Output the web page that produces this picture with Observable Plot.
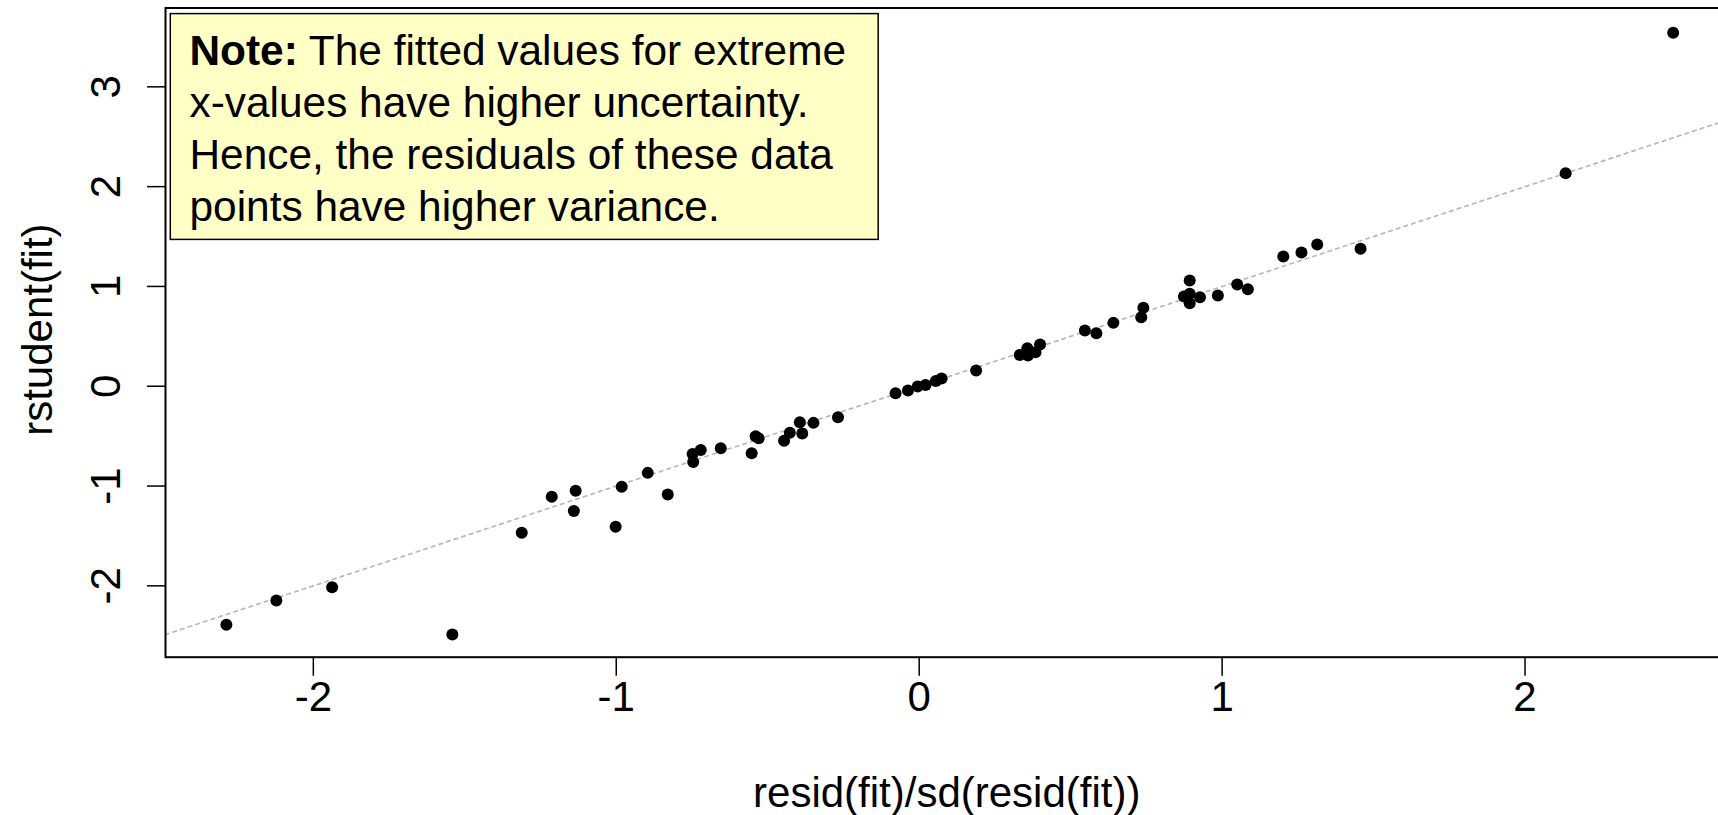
<!DOCTYPE html>
<html>
<head>
<meta charset="utf-8">
<script src="https://cdn.jsdelivr.net/npm/d3@7"></script>
<script src="https://cdn.jsdelivr.net/npm/@observablehq/plot@0.6"></script>
<style>
  html, body { margin: 0; padding: 0; background: white; overflow: hidden; }
</style>
</head>
<body>
<div id="chart"></div>
<script>
// Standardized residuals (x) against studentized residuals (y), one entry per observation
const standardized = [
  -2.287, -2.122, -1.938, -1.541, -1.312, -1.213, -1.134, -1.140, -1.002, -0.982,
  -0.896, -0.830, -0.748, -0.746, -0.721, -0.655, -0.553, -0.540, -0.530, -0.446,
  -0.427, -0.394, -0.386, -0.349, -0.268, -0.078, -0.037, -0.005, 0.021, 0.055,
  0.074, 0.188, 0.332, 0.357, 0.359, 0.384, 0.399, 0.547, 0.585, 0.641,
  0.733, 0.740, 0.874, 0.893, 0.893, 0.893, 0.927, 0.986, 1.050, 1.085,
  1.202, 1.262, 1.314, 1.457, 2.134, 2.489
];
const studentized = [
  -2.391, -2.147, -2.014, -2.488, -1.469, -1.108, -1.048, -1.249, -1.409, -1.008,
  -0.868, -1.085, -0.678, -0.758, -0.640, -0.621, -0.671, -0.502, -0.520, -0.547,
  -0.467, -0.361, -0.474, -0.367, -0.311, -0.070, -0.043, -0.003, 0.012, 0.052,
  0.077, 0.157, 0.314, 0.381, 0.308, 0.341, 0.418, 0.558, 0.531, 0.635,
  0.691, 0.786, 0.899, 1.059, 0.926, 0.832, 0.892, 0.909, 1.019, 0.972,
  1.300, 1.340, 1.420, 1.377, 2.134, 3.541
];

const xTicks = [-2, -1, 0, 1, 2];
const yTicks = [-2, -1, 0, 1, 2, 3];

const xTitle = "resid(fit)/sd(resid(fit))";
const yTitle = "rstudent(fit)";

const noteLines = [
  "Note: The fitted values for extreme",
  "x-values have higher uncertainty.",
  "Hence, the residuals of these data",
  "points have higher variance."
];

// Reference line y = a + b x
const ablineIntercept = 0;
const ablineSlope = 1;

const points = standardized.map((x, i) => ({x, y: studentized[i]}));

const xDomain = [-2.488, 2.67];
const yDomain = [-2.715, 3.79];
const refLine = xDomain.map(x => ({x, y: ablineIntercept + ablineSlope * x}));

const font = "'Liberation Sans', Arial, Helvetica, sans-serif";
const fs = 42;

const chart = Plot.plot({
  width: 1718,
  height: 815,
  marginLeft: 165,
  marginRight: -9.5,
  marginTop: 7.5,
  marginBottom: 158.3,
  x: {domain: xDomain},
  y: {domain: yDomain},
  style: {fontFamily: font, background: "white", color: "black", overflow: "hidden"},
  marks: [
    Plot.line(refLine, {x: "x", y: "y", stroke: "#b8b8b8", strokeWidth: 1.7, strokeDasharray: "3.5,4.5", clip: true}),
    Plot.dot(points, {x: "x", y: "y", r: 6, fill: "black", stroke: "none"}),
    // note box in the top-left corner of the panel
    Plot.frame({fill: "#ffffc6", stroke: "black", strokeWidth: 1.5,
      insetLeft: 4.8, insetTop: 5.6, insetRight: 849.8, insetBottom: 417.8}),
    Plot.text([noteLines.join("\n")], {
      frameAnchor: "top-left", dx: 24, dy: 20,
      textAnchor: "start", lineAnchor: "top", lineHeight: 51.5 / fs,
      fontSize: 42.4, fill: "black", className: "note-text"
    }),
    Plot.frame({stroke: "black", strokeWidth: 2}),
    Plot.axisX(xTicks, {tickSize: 19, tickPadding: 5, fontSize: fs, strokeWidth: 1.5,
      tickFormat: d => String(d), label: null}),
    Plot.axisY(yTicks, {tickSize: 18, strokeWidth: 1.5, tickFormat: () => "", label: null}),
    Plot.text(yTicks, {y: d => d, text: d => String(d), frameAnchor: "left", dx: -59,
      rotate: -90, textAnchor: "middle", lineAnchor: "middle", fontSize: fs, fill: "black"}),
    Plot.text([xTitle], {frameAnchor: "bottom", dy: 136.6, textAnchor: "middle",
      lineAnchor: "middle", fontSize: fs, fill: "black"}),
    Plot.text([yTitle], {frameAnchor: "left", dx: -127, dy: -3, rotate: -90, textAnchor: "middle",
      lineAnchor: "middle", fontSize: fs, fill: "black"})
  ]
});

document.getElementById("chart").appendChild(chart);

// Set the leading "Note:" of the first line in bold
const firstLine = chart.querySelector(".note-text tspan");
if (firstLine) {
  const full = firstLine.textContent;
  const head = "Note:";
  if (full.startsWith(head)) {
    firstLine.textContent = "";
    const bold = document.createElementNS("http://www.w3.org/2000/svg", "tspan");
    bold.setAttribute("font-weight", "bold");
    bold.textContent = head;
    firstLine.appendChild(bold);
    firstLine.appendChild(document.createTextNode(full.slice(head.length)));
  }
}
</script>
</body>
</html>
